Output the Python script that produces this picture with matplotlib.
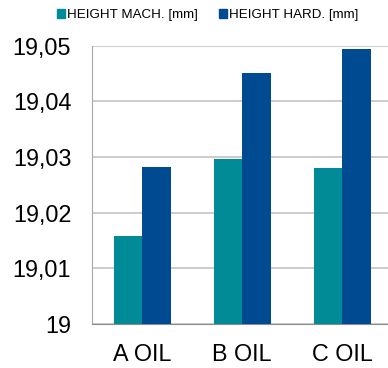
import matplotlib.pyplot as plt
import numpy as np
from matplotlib.patches import Patch
from matplotlib.ticker import FuncFormatter, MultipleLocator

plt.rcParams['font.family'] = ['Liberation Sans', 'DejaVu Sans']

oils = ['A OIL', 'B OIL', 'C OIL']
height_mach = [19.0158, 19.0297, 19.0280]
height_hard = [19.0282, 19.0450, 19.0493]
series_names = ['HEIGHT MACH. [mm]', 'HEIGHT HARD. [mm]']

teal = '#008B96'
navy = '#004A91'

fig = plt.figure(figsize=(3.88, 3.68), dpi=100)
ax = fig.add_axes([92 / 388, 44 / 368, 300 / 388, 278.5 / 368])

x = np.arange(len(oils))
w = 0.285
ax.bar(x - w / 2, np.array(height_mach) - 19, w, bottom=19, color=teal, zorder=3)
ax.bar(x + w / 2, np.array(height_hard) - 19, w, bottom=19, color=navy, zorder=3)

ax.set_xlim(-0.5, 2.5)
ax.set_ylim(19, 19.05)
ax.yaxis.set_major_locator(MultipleLocator(0.01))
ax.yaxis.set_major_formatter(FuncFormatter(lambda v, p: ('%g' % round(v, 4)).replace('.', ',')))
ax.set_xticks(x)
ax.set_xticklabels(oils)

ax.grid(axis='y', color='#BFBFBF', linewidth=1.1, zorder=0)
ax.tick_params(axis='both', length=0, labelsize=16.8)
ax.tick_params(axis='y', pad=15)
ax.tick_params(axis='x', pad=14)
for side in ['top', 'right']:
    ax.spines[side].set_visible(False)
ax.spines['left'].set_color('#A6A6A6')
ax.spines['bottom'].set_color('#8C8C8C')

handles = [Patch(color=teal), Patch(color=navy)]
fig.legend(handles, series_names, loc='center', bbox_to_anchor=(208 / 388, 1 - 15 / 368),
           ncol=2, frameon=False, fontsize=9.6, handlelength=0.6, handleheight=0.6,
           handletextpad=0.15, columnspacing=1.6, borderpad=0)

fig.savefig('out.png', dpi=100)
